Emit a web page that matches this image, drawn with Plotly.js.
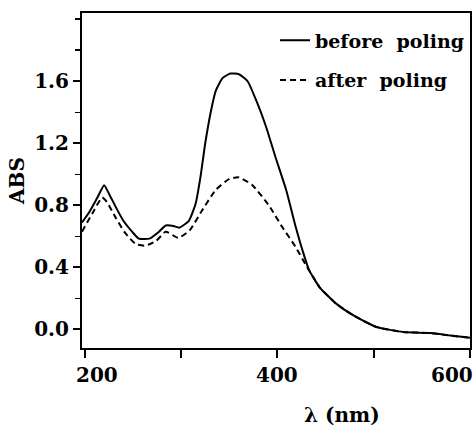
<!DOCTYPE html>
<html><head><meta charset="utf-8">
<script src="https://cdn.plot.ly/plotly-3.0.1.min.js"></script>
<style>html,body{margin:0;padding:0;background:#fff}</style>
</head><body><div id="chart" style="width:474px;height:429px"></div>
<script>
const wavelengthBefore = [197, 204, 213, 220, 225, 232, 240, 249, 256, 267, 277, 284, 292, 298, 308, 315, 320, 325, 331, 336, 343, 351, 360, 369, 379, 388, 398, 409, 419, 426, 433, 444, 461, 479, 503, 531, 559, 580, 600];
const absBefore = [0.69, 0.75, 0.85, 0.93, 0.875, 0.79, 0.70, 0.63, 0.585, 0.585, 0.63, 0.67, 0.667, 0.656, 0.70, 0.81, 0.98, 1.20, 1.41, 1.54, 1.62, 1.65, 1.645, 1.60, 1.46, 1.31, 1.11, 0.90, 0.66, 0.51, 0.38, 0.27, 0.166, 0.09, 0.015, -0.017, -0.024, -0.04, -0.054];
const wavelengthAfter = [197, 208, 218, 223, 232, 242, 253, 263, 274, 284, 297, 309, 322, 336, 350, 360, 374, 391, 405, 419, 430, 437, 444, 461, 479, 503, 531, 559, 580, 600];
const absAfter = [0.63, 0.75, 0.85, 0.82, 0.72, 0.62, 0.55, 0.54, 0.57, 0.63, 0.59, 0.64, 0.77, 0.90, 0.97, 0.98, 0.93, 0.80, 0.66, 0.53, 0.41, 0.34, 0.27, 0.166, 0.09, 0.015, -0.017, -0.024, -0.04, -0.054];
const seriesNames = ['before\u00a0 poling', 'after\u00a0 poling'];
const xTickVals = [200, 300, 400, 500, 600];
const xLabelVals = [200, 400, 600];
const xLabelText = ['200', '400', '600'];
const yTickVals = [0, 0.4, 0.8, 1.2, 1.6];
const yTickText = ['0.0', '0.4', '0.8', '1.2', '1.6'];
const xTitle = 'λ (nm)';
const yTitle = 'ABS';

// label offsets (styling, px)
const xLabelShift = [12, 0, -18];

const FONT = {family: 'DejaVu Serif', weight: 'bold', size: 20, color: '#000'};
const LEGEND_FONT = {family: 'DejaVu Serif', weight: 'bold', size: 19, color: '#000'};

const traces = [
  {x: wavelengthBefore, y: absBefore, name: seriesNames[0], mode: 'lines', legendgroup: 'a',
   line: {color: '#000', width: 2, shape: 'spline', smoothing: 0.5}},
  {x: wavelengthAfter, y: absAfter, name: seriesNames[1], mode: 'lines', legendgroup: 'b',
   line: {color: '#000', width: 2, dash: '6px,4px', shape: 'spline', smoothing: 0.5}}
];

const xLabelAnnotations = xLabelVals.map((v, i) => ({
  text: xLabelText[i], x: v, xref: 'x', y: 0, yref: 'paper',
  xanchor: 'center', yanchor: 'top', yshift: -13, xshift: xLabelShift[i],
  showarrow: false, font: FONT
}));

const layout = {
  width: 474, height: 429,
  margin: {l: 82, r: 4, t: 13, b: 81},
  paper_bgcolor: '#fff', plot_bgcolor: '#fff',
  font: FONT,
  showlegend: true,
  legend: {x: 1, xanchor: 'right', y: 0.975, yanchor: 'top', bgcolor: 'rgba(0,0,0,0)',
           font: LEGEND_FONT, traceorder: 'grouped', tracegroupgap: 12},
  xaxis: {range: [197, 600], tickvals: xTickVals, showticklabels: false,
          ticks: 'outside', ticklen: 8, tickwidth: 2, tickcolor: '#000',
          showline: true, linewidth: 2, linecolor: '#000', mirror: true,
          showgrid: false, zeroline: false},
  yaxis: {range: [-0.12, 2.04], tickvals: yTickVals, ticktext: yTickText,
          ticks: 'outside', ticklen: 7, tickwidth: 2, tickcolor: '#000',
          minor: {dtick: 0.2, tick0: 0, ticks: 'outside', ticklen: 5, tickwidth: 1.5, tickcolor: '#000'},
          showline: true, linewidth: 2, linecolor: '#000', mirror: true,
          showgrid: false, zeroline: false, tickfont: FONT,
          title: {text: yTitle, font: FONT, standoff: 4}},
  annotations: xLabelAnnotations.concat([
    {text: xTitle, xref: 'paper', yref: 'paper', x: 0.67, y: -0.2,
     xanchor: 'center', yanchor: 'middle', showarrow: false, font: FONT}])
};

Plotly.newPlot('chart', traces, layout, {staticPlot: true, displayModeBar: false});
</script></body></html>
